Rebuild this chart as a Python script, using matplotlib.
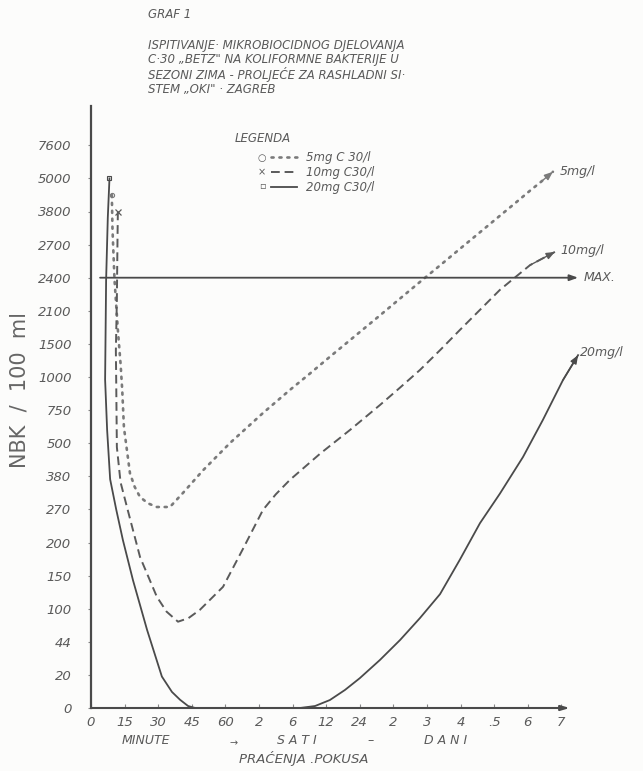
import numpy as np
import matplotlib
matplotlib.use('Agg')
import matplotlib.pyplot as plt
from matplotlib.lines import Line2D

# ---------------- data ----------------
y_tick_values = [0, 20, 44, 100, 150, 200, 270, 380, 500, 750, 1000,
                 1500, 2100, 2400, 2700, 3800, 5000, 7600]
x_tick_labels = ['0', '15', '30', '45', '60', '2', '6', '12', '24',
                 '2', '3', '4', '.5', '6', '7']
x_tick_pos = list(range(len(x_tick_labels)))

# time position (tick index) and NBK / 100 ml
t_5mg = [0.62, 0.64, 0.70, 0.80, 0.88, 0.93, 0.98, 1.16, 1.30, 1.46, 1.70,
         1.96, 2.35, 2.74, 3.33, 4.14, 5.12, 5.92, 6.50, 7.11, 7.85, 8.60,
         9.20, 9.79, 10.40, 10.98, 11.60, 12.17, 12.60, 13.07, 13.40, 13.75]
nbk_5mg = [4400, 3200, 2380, 1750, 1200, 900, 620, 391, 345, 311, 290,
           278, 278, 325, 401, 502, 728, 902, 1045, 1305, 1638, 2016,
           2211, 2361, 2514, 2661, 3129, 3657, 4076, 4556, 4880, 5520]

t_10mg = [0.80, 0.79, 0.77, 0.74, 0.75, 0.77, 0.88, 1.07, 1.46, 1.96, 2.25,
          2.59, 2.90, 3.24, 3.93, 4.52, 5.12, 5.50, 5.92, 6.82, 7.71, 8.60,
          9.20, 9.79, 10.40, 10.98, 11.60, 12.17, 12.60, 13.07, 13.81]
nbk_10mg = [3800, 3000, 2200, 1400, 980, 486, 360, 278, 178, 118, 95,
            78, 84, 98, 133, 190, 269, 320, 368, 462, 600, 788,
            920, 1105, 1410, 1752, 2115, 2289, 2397, 2514, 2634]

t_20mg = [0.55, 0.50, 0.45, 0.42, 0.48, 0.57, 0.75, 0.95, 1.25, 1.67, 2.11,
          2.41, 2.65, 2.89, 3.10, 4.73, 6.22, 6.67, 7.11, 7.56, 8.00, 8.60,
          9.20, 9.79, 10.39, 10.98, 11.58, 12.17, 12.86, 13.45, 14.05, 14.50]
nbk_20mg = [5000, 3600, 2380, 980, 600, 370, 270, 205, 143, 64, 19,
            9.7, 5, 1.2, 0, 0, 0, 1.2, 4.8, 10.9, 18, 30.8,
            47, 84, 122, 174, 241, 322, 450, 675, 977, 1330]

max_value = 2400
max_t = [0.27, 14.5]

# ---------------- scale ----------------
ext_vals = np.array(y_tick_values + [7600 + 2600 * 3], dtype=float)
ext_idx = np.arange(len(ext_vals), dtype=float)
ext_idx[-1] = 17 + 3


def fwd(v):
    return np.interp(v, ext_vals, ext_idx)


def inv(i):
    return np.interp(i, ext_idx, ext_vals)


INK = '#4a4a4a'
TXT = '#5a5a5a'
C5 = '#7a7a7a'
C10 = '#5a5a5a'
FONT = 'DejaVu Sans'

fig = plt.figure(figsize=(6.43, 7.71), dpi=100)
fig.patch.set_facecolor('#fcfcfb')
W, H = 643, 771
ax = fig.add_axes([91 / W, 1 - 708 / H, 475 / W, (708 - 106) / H])
ax.set_facecolor('none')
ax.set_yscale('function', functions=(fwd, inv))
ax.set_xlim(0, 14.14)
ax.set_ylim(0, inv((708 - 106) / 33.1))

# curves
ax.plot(t_5mg, nbk_5mg, color=C5, lw=1.9, ls=(0, (0.8, 2.2)),
        dash_capstyle='round', clip_on=False)
ax.plot(t_10mg, nbk_10mg, color=C10, lw=1.4, ls=(0, (4.5, 2.5)),
        clip_on=False)
ax.plot(t_20mg, nbk_20mg, color=INK, lw=1.3, clip_on=False)

# start markers
ax.plot(t_5mg[0], nbk_5mg[0], marker='o', ms=3, mfc='none', mec=C5, mew=0.8,
        clip_on=False)
ax.plot(t_10mg[0], nbk_10mg[0], marker='x', ms=4, mec=C10, mew=0.9,
        clip_on=False)
ax.plot(t_20mg[0], nbk_20mg[0], marker='s', ms=3, mfc='none', mec=INK,
        mew=0.8, clip_on=False)

for t, v, c in [(t_5mg, nbk_5mg, C5), (t_10mg, nbk_10mg, C10),
                (t_20mg, nbk_20mg, INK)]:
    ax.annotate('', xy=(t[-1], v[-1]), xytext=(t[-2], v[-2]),
                arrowprops=dict(arrowstyle='-|>,head_length=0.5,head_width=0.2',
                                color=c, lw=1, shrinkA=0, shrinkB=0),
                annotation_clip=False)

# MAX line
ax.annotate('', xy=(max_t[1], max_value), xytext=(max_t[0], max_value),
            arrowprops=dict(arrowstyle='-|>,head_length=0.5,head_width=0.18',
                            color=INK, lw=1.3, shrinkA=0, shrinkB=0),
            annotation_clip=False)

# curve end labels
lab_kw = dict(fontsize=9, color=TXT, style='italic', family=FONT,
              va='center', ha='left')
ax.annotate('5mg/l', xy=(t_5mg[-1], nbk_5mg[-1]), xytext=(5, 0),
            textcoords='offset points', annotation_clip=False, **lab_kw)
ax.annotate('10mg/l', xy=(t_10mg[-1], nbk_10mg[-1]), xytext=(4, 1),
            textcoords='offset points', annotation_clip=False, **lab_kw)
ax.annotate('MAX.', xy=(max_t[1], max_value), xytext=(4, 0),
            textcoords='offset points', annotation_clip=False, **lab_kw)
ax.annotate('20mg/l', xy=(t_20mg[-1], nbk_20mg[-1]), xytext=(1, 2),
            textcoords='offset points', annotation_clip=False, **lab_kw)

# axes
for s in ['top', 'right', 'bottom']:
    ax.spines[s].set_visible(False)
ax.spines['left'].set_color(INK)
ax.spines['left'].set_linewidth(1.6)
ax.annotate('', xy=(14.25, 0), xytext=(0, 0),
            arrowprops=dict(arrowstyle='-|>,head_length=0.5,head_width=0.15',
                            color=INK, lw=1.5, shrinkA=0, shrinkB=0),
            annotation_clip=False)

ax.set_yticks(y_tick_values)
ax.set_yticklabels([str(v) for v in y_tick_values])
ax.set_xticks(x_tick_pos)
ax.set_xticklabels(x_tick_labels)
ax.tick_params(axis='y', direction='out', length=2, width=0.8, color='#888888',
               pad=12, labelsize=9.5, labelcolor=TXT)
ax.tick_params(axis='x', direction='in', length=3, width=0.8, color='#888888',
               pad=6, labelsize=9.5, labelcolor=TXT)
ax.yaxis.set_minor_locator(matplotlib.ticker.NullLocator())
for lab in ax.get_xticklabels() + ax.get_yticklabels():
    lab.set_fontstyle('italic')
    lab.set_family(FONT)


def ftext(x, y, s, **kw):
    base = dict(fontsize=8.5, color=TXT, style='italic', family=FONT,
                va='center', ha='left')
    base.update(kw)
    fig.text(x / W, 1 - y / H, s, **base)


# title block
ftext(148, 15, 'GRAF 1')
ftext(148, 45, 'ISPITIVANJE· MIKROBIOCIDNOG DJELOVANJA')
ftext(148, 60, 'C·30 „BETZ" NA KOLIFORMNE BAKTERIJE U')
ftext(148, 75, 'SEZONI ZIMA - PROLJEĆE ZA RASHLADNI SI·')
ftext(148, 90, 'STEM „OKI" · ZAGREB')

# legend
ftext(235, 138, 'LEGENDA')
for y, m in [(158, '○'), (172, '×'), (185, '▫')]:
    ftext(262, y, m, fontsize=7, ha='center')
handles = [Line2D([], [], color=C5, lw=1.9, ls=(0, (0.8, 2.2)),
                  dash_capstyle='round'),
           Line2D([], [], color=C10, lw=1.4, ls=(0, (4.5, 2.5))),
           Line2D([], [], color=INK, lw=1.3)]
labels = ['5mg C 30/l', '10mg C30/l', '20mg C30/l']
fig.legend(handles, labels, loc='upper left',
           bbox_to_anchor=(271 / W, 1 - 151 / H), frameon=False,
           borderpad=0, borderaxespad=0, handlelength=2.2, handletextpad=0.8,
           labelspacing=0.18,
           prop=dict(family=FONT, style='italic', size=8.5), labelcolor=TXT)

# axis titles
ftext(20, 390, 'NBK  /  100  ml', fontsize=15, rotation=90, ha='center',
      style='normal', color='#666666')
ftext(146, 741, 'MINUTE', fontsize=9, ha='center')
ftext(234, 743, '→', fontsize=7, ha='center')
ftext(297, 741, 'S A T I', fontsize=9, ha='center')
ftext(371, 741, '–', fontsize=9, ha='center')
ftext(446, 741, 'D A N I', fontsize=9, ha='center')
ftext(304, 759, 'PRAĆENJA .POKUSA', fontsize=9.5, ha='center')

fig.savefig('out.png', dpi=100, facecolor=fig.get_facecolor())
